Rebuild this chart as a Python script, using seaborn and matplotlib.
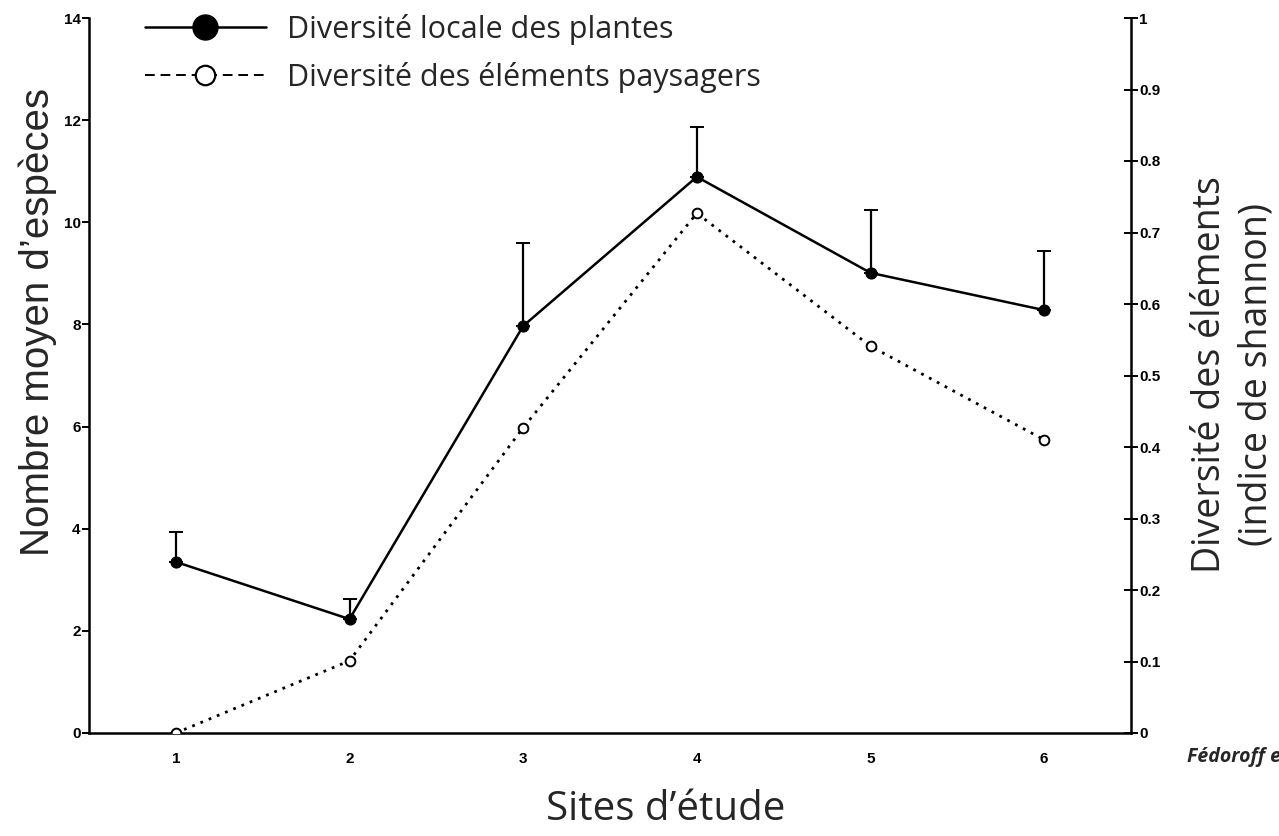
import matplotlib
matplotlib.use("Agg")
import matplotlib.pyplot as plt
import seaborn as sns
import pandas as pd
import numpy as np
from matplotlib.lines import Line2D

sns.set_theme(style="white")
plt.rcParams['font.family'] = ['Lato', 'DejaVu Sans']

sites = [1, 2, 3, 4, 5, 6]
plantes = [3.35, 2.23, 7.97, 10.89, 9.01, 8.28]
plantes_err = [0.59, 0.39, 1.63, 0.98, 1.23, 1.16]
paysage = [0.0, 0.101, 0.427, 0.727, 0.541, 0.41]
left_ticks = [0, 2, 4, 6, 8, 10, 12, 14]
right_ticks = [0, 0.1, 0.2, 0.3, 0.4, 0.5, 0.6, 0.7, 0.8, 0.9, 1]
right_tick_labels = ["0", "0.1", "0.2", "0.3", "0.4", "0.5", "0.6", "0.7", "0.8", "0.9", "1"]

df = pd.DataFrame({"site": sites, "plantes": plantes, "err": plantes_err, "paysage": paysage})

fig = plt.figure(figsize=(12.79, 8.36), dpi=100)
ax = fig.add_axes([89/1279, 1-733/836, (1131-89)/1279, (733-18)/836])
ax2 = ax.twinx()

tickfont = dict(family='Liberation Sans', weight='bold', size=11)

# error bars (upper only)
ax.errorbar(df["site"], df["plantes"], yerr=[np.zeros(len(df)), df["err"]],
            fmt='none', ecolor='black', elinewidth=1.6, capsize=5, capthick=1.4, zorder=3)
sns.lineplot(data=df, x="site", y="plantes", ax=ax, color='black', linewidth=1.8,
             marker='o', markersize=8, markerfacecolor='black', markeredgecolor='black', zorder=4)
sns.lineplot(data=df, x="site", y="paysage", ax=ax2, color='black', linewidth=2.0,
             linestyle=(0, (1, 2.2)), marker='o', markersize=7, markerfacecolor='white',
             markeredgecolor='black', markeredgewidth=1.4, zorder=4)

ax.set_xlim(0.5, 6.5)
ax.set_ylim(0, 14)
ax2.set_ylim(0, 1)
ax.set_xticks(sites)
ax.set_xticklabels([str(s) for s in sites], fontdict=tickfont)
ax.set_yticks(left_ticks)
ax.set_yticklabels([str(t) for t in left_ticks], fontdict=tickfont)
ax2.set_yticks(right_ticks)
ax2.set_yticklabels(right_tick_labels, fontdict=tickfont)

for a in (ax, ax2):
    a.spines['top'].set_visible(False)
    for s in ('left', 'right', 'bottom'):
        a.spines[s].set_linewidth(1.8)
        a.spines[s].set_color('black')
ax.spines['right'].set_visible(False)
ax2.spines['left'].set_visible(False)
ax2.spines['bottom'].set_visible(False)

ax.tick_params(axis='y', direction='out', length=5, width=1.4, pad=1, left=True, colors='black')
ax.tick_params(axis='x', length=0, pad=14, colors='black')
ax2.tick_params(axis='y', direction='inout', length=10, width=1.4, pad=1, right=True, colors='black')
ax.set_xlabel("")
ax.set_ylabel("")
ax2.set_ylabel("")
ax.grid(False)
ax2.grid(False)

fig.text(666/1279, 1-810/836, "Sites d’étude", ha='center', va='center',
         fontsize=29, family=['Open Sans', 'DejaVu Sans'])
fig.text(38/1279, 1-322/836, "Nombre moyen d’espèces", rotation=90, ha='center', va='center',
         fontsize=29, family=['Liberation Sans Narrow', 'Liberation Sans', 'DejaVu Sans'])
fig.text(1233/1279, 1-375/836, "Diversité des éléments\n(indice de shannon)", rotation=90,
         ha='center', va='center', fontsize=27, linespacing=1.3,
         family=['Open Sans', 'DejaVu Sans'])
fig.text(1187/1279, 1-757/836, "Fédoroff et al.", ha='left', va='center', fontsize=14,
         weight='bold', style='italic', family=['Open Sans', 'DejaVu Sans'])

handles = [
    Line2D([0], [0], color='black', linewidth=1.8, marker='o', markersize=18,
           markerfacecolor='black', markeredgecolor='black'),
    Line2D([0], [0], color='black', linewidth=1.4, linestyle=(0, (5, 3)), marker='o', markersize=14,
           markerfacecolor='white', markeredgecolor='black', markeredgewidth=1.6),
]
fig.legend(handles, ["Diversité locale des plantes", "Diversité des éléments paysagers"],
           loc='upper left', bbox_to_anchor=(145/1279, 1-14/836), frameon=False, borderpad=0,
           borderaxespad=0, handlelength=3.95, handletextpad=0.69, labelspacing=0.55,
           prop={'family': ['Open Sans', 'DejaVu Sans'], 'size': 22})

fig.savefig("out.png", dpi=100)
